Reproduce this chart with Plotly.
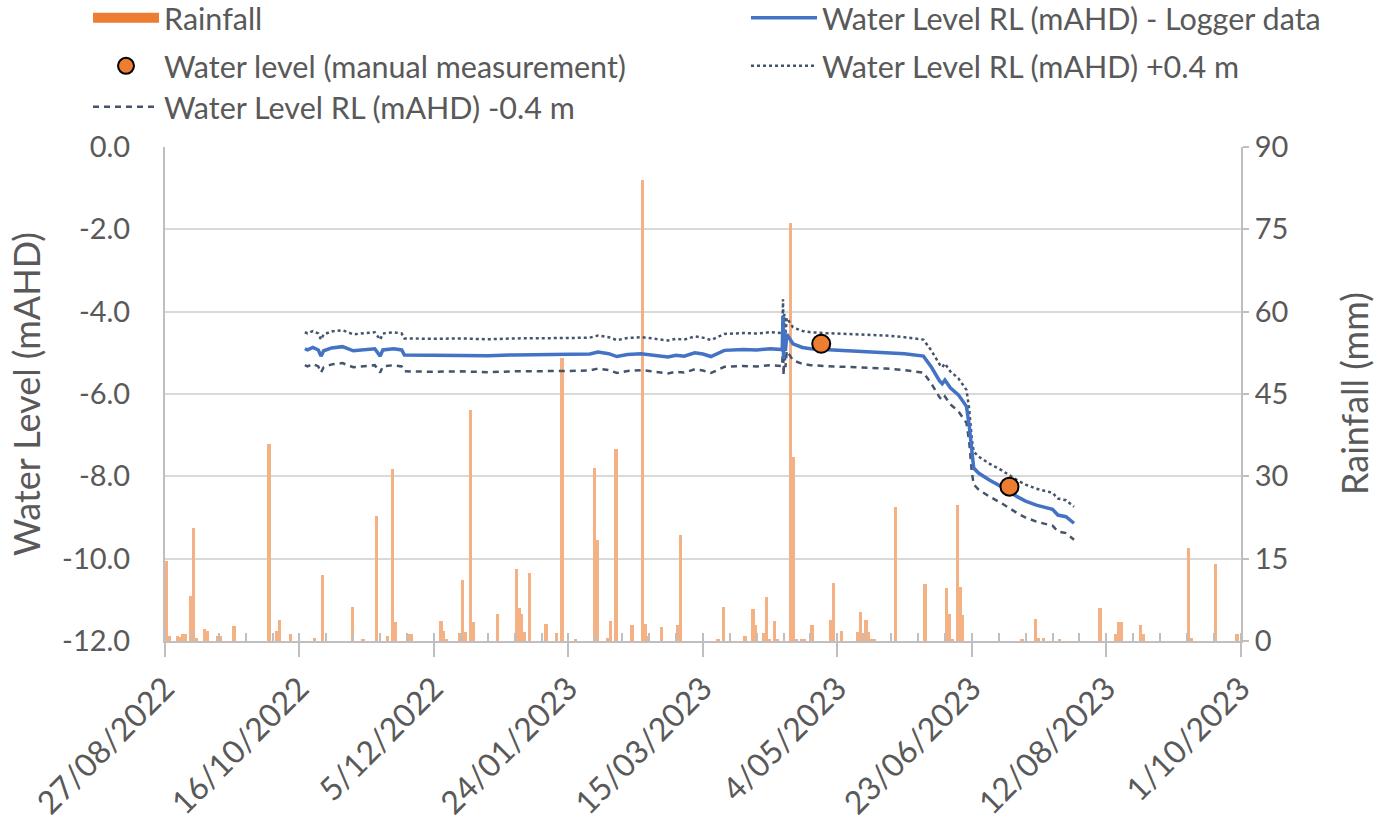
import pandas as pd
import plotly.graph_objects as go

START = pd.Timestamp("2022-08-27")
END = pd.Timestamp("2023-10-01")

# Daily rainfall (day offset from 27/08/2022, mm)
rain_day = [0, 1, 4, 5, 6, 7, 9, 10, 11, 14, 15, 19, 20, 25, 38, 41, 42, 46, 55, 58,
            69, 73, 78, 82, 84, 85, 90, 91,
            102, 103, 104, 109, 110, 111, 113, 114, 123, 130, 131, 132, 133, 135, 141,
            145, 147, 152, 159, 160, 164, 165, 167, 173, 177, 178, 179, 184, 190, 191,
            205, 207, 215, 218, 219, 222, 223, 224, 226, 227, 232, 233, 234, 236, 237,
            240, 247, 248, 251, 257, 258, 259, 260, 261, 262, 263, 271, 282, 290, 291,
            292, 294, 295, 296,
            318, 323, 324, 326, 332, 347, 353, 354, 355, 362, 363, 380, 381, 390, 398]
rain_mm = [14.5, 1.0, 1.0, 0.8, 1.2, 1.3, 8.2, 20.5, 0.5, 2.1, 1.8, 1.0, 1.0, 2.8, 35.9, 1.8, 3.8, 1.3, 0.5, 12.0,
           6.2, 0.3, 22.8, 1.0, 31.3, 3.4, 1.3, 1.3,
           3.6, 1.8, 0.4, 1.5, 11.1, 1.7, 42.0, 3.4, 4.9, 13.1, 6.0, 5.0, 1.7, 12.3, 3.1,
           1.5, 51.5, 0.3, 31.5, 18.4, 0.5, 3.6, 34.9, 2.9, 84.0, 3.1, 1.0, 2.6, 2.9, 19.4,
           0.4, 6.2, 1.0, 5.9, 2.9, 1.5, 8.0, 0.3, 3.7, 0.2, 76.2, 33.6, 0.3, 0.3, 0.3,
           2.9, 3.8, 10.6, 1.8, 1.6, 5.2, 1.5, 3.8, 1.6, 0.3, 0.3, 24.4, 10.4, 9.7, 5.0,
           0.3, 24.8, 9.9, 4.7,
           0.3, 4.1, 0.5, 0.5, 0.3, 6.0, 1.3, 3.5, 3.5, 2.9, 1.3, 16.9, 0.5, 14.0, 1.3]

# Logger water level (day offset from 27/08/2022, mAHD)
logger_day = [52, 53, 55, 57, 58, 59, 62, 66, 70, 74, 78, 80, 81, 85, 88, 89, 100, 110, 120,
              130, 140, 150, 158, 161, 165, 168, 172, 177, 180, 184, 187, 190, 193, 197, 200,
              203, 206, 208, 215, 220, 225, 229.5, 229.8, 230.0, 230.3, 230.7, 231.2, 232,
              233.5, 237, 240, 245, 252, 260, 268, 275, 282, 285, 288, 289, 290, 292, 295,
              298, 299, 300, 300.7, 302.5, 306.5, 311, 317, 320, 324, 330, 332, 335, 338]
logger_level = [-4.90, -4.93, -4.87, -4.93, -5.08, -4.95, -4.88, -4.85, -4.95, -4.92, -4.90,
                -5.08, -4.93, -4.90, -4.93, -5.05, -5.06, -5.05, -5.07, -5.05, -5.05, -5.04,
                -5.03, -4.98, -5.02, -5.09, -5.04, -5.02, -5.04, -5.08, -5.10, -5.06, -5.08,
                -5.00, -5.03, -5.09, -5.00, -4.94, -4.92, -4.93, -4.90, -4.92, -4.10, -5.15,
                -4.45, -4.95, -4.55, -4.62, -4.78, -4.87, -4.90, -4.92, -4.94, -4.96, -4.98,
                -5.02, -5.08, -5.35, -5.68, -5.75, -5.66, -5.85, -6.02, -6.30, -6.75, -7.50,
                -7.80, -7.92, -8.09, -8.25, -8.50, -8.60, -8.70, -8.80, -8.94, -8.98, -9.14]

manual_date = ["2023-04-28", "2023-07-07"]
manual_level = [-4.78, -8.25]

level_ticks = [0, -2, -4, -6, -8, -10, -12]
level_tick_text = ["0.0", "-2.0", "-4.0", "-6.0", "-8.0", "-10.0", "-12.0"]

BAND = 0.4  # +/- offset shown in the legend

rain_x = START + pd.to_timedelta(rain_day, unit="D")
logger_x = START + pd.to_timedelta(logger_day, unit="D")
level_plus = [v + BAND for v in logger_level]
level_minus = [v - BAND for v in logger_level]

FONT = "Lato"
TXT = "#595959"
AXC = "#BFBFBF"
DAY_MS = 86400000

fig = go.Figure()
fig.add_trace(go.Bar(x=rain_x, y=rain_mm, name="Rainfall", yaxis="y",
                     width=1.25 * DAY_MS, offset=0, showlegend=False,
                     marker=dict(color="#F4B183", line=dict(width=0))))
# legend-only swatch for the rainfall bars (wide rectangle like the original)
fig.add_trace(go.Scatter(x=[None], y=[None], mode="lines", yaxis="y", name="Rainfall",
                         line=dict(color="#ED7D31", width=13),
                         legend="legend", legendrank=1))
fig.add_trace(go.Scatter(x=logger_x, y=level_plus, mode="lines", yaxis="y2",
                         name="Water Level RL (mAHD) +0.4 m",
                         line=dict(color="#44546A", width=2.5, dash="dot"),
                         legend="legend4", legendrank=4))
fig.add_trace(go.Scatter(x=logger_x, y=level_minus, mode="lines", yaxis="y2",
                         name="Water Level RL (mAHD) -0.4 m",
                         line=dict(color="#44546A", width=2.5, dash="6px,5px"),
                         legend="legend5", legendrank=5))
fig.add_trace(go.Scatter(x=logger_x, y=logger_level, mode="lines", yaxis="y2",
                         name="Water Level RL (mAHD) - Logger data",
                         line=dict(color="#4472C4", width=3.5),
                         legend="legend2", legendrank=2))
fig.add_trace(go.Scatter(x=manual_date, y=manual_level, mode="markers", yaxis="y2",
                         name="Water level (manual measurement)",
                         marker=dict(color="#ED7D31", size=18, line=dict(color="#000000", width=2)),
                         legend="legend3", legendrank=3))

# Plot area in px: left 165, right 1241, top 147, bottom 641
PL, PR, PT, PB = 165, 1241, 147, 641
W, H = 1379, 825


def cx(px):
    return px / W


def cy(py):
    return 1 - py / H


def px_x(px):
    return (px - PL) / (PR - PL)


leg_common = dict(font=dict(family=FONT, size=30.5, color=TXT), bgcolor="rgba(0,0,0,0)",
                  xref="container", yref="container",
                  xanchor="left", yanchor="middle", itemwidth=66, borderwidth=0)

fig.update_layout(
    width=W, height=H, autosize=False,
    margin=dict(l=PL, r=W - PR, t=PT, b=H - PB, pad=0, autoexpand=False),
    plot_bgcolor="white", paper_bgcolor="white",
    font=dict(family=FONT, color=TXT),
    bargap=0,
    showlegend=True,
    legend=dict(x=cx(88), y=cy(18), **leg_common),
    legend2=dict(x=cx(746), y=cy(18), **leg_common),
    legend3=dict(x=cx(88), y=cy(66), **leg_common),
    legend4=dict(x=cx(746), y=cy(66), **leg_common),
    legend5=dict(x=cx(88), y=cy(107), **leg_common),
    xaxis=dict(
        type="date",
        range=[START, END + pd.Timedelta(hours=2)],
        tick0=START, dtick=50 * DAY_MS, tickformat="%-d/%m/%Y", tickangle=-45,
        ticks="outside", ticklen=14, tickwidth=2, tickcolor=AXC,
        showline=True, linecolor=AXC, linewidth=2, showgrid=False, zeroline=False,
        tickfont=dict(family=FONT, size=32, color=TXT),
        minor=dict(tick0=START, dtick=10 * DAY_MS, ticks="inside", ticklen=8,
                   tickwidth=2, tickcolor=AXC, showgrid=False),
    ),
    yaxis=dict(
        range=[0, 90], dtick=15, side="right", tickformat="d",
        showgrid=False, zeroline=False,
        showline=True, linecolor=AXC, linewidth=2,
        ticks="outside", ticklen=6, tickwidth=2, tickcolor=AXC,
        tickfont=dict(family=FONT, size=29, color=TXT),
    ),
    yaxis2=dict(
        overlaying="y", side="left", range=[-12, 0],
        tickmode="array", tickvals=level_ticks, ticktext=level_tick_text,
        showgrid=True, gridcolor="#D9D9D9", gridwidth=2, zeroline=False,
        showline=True, linecolor=AXC, linewidth=2,
        ticks="outside", ticklen=27, tickcolor="rgba(0,0,0,0)",
        tickfont=dict(family=FONT, size=29, color=TXT),
    ),
    annotations=[
        dict(text="Water Level (mAHD)", textangle=-90, showarrow=False,
             xref="paper", yref="paper", x=px_x(26), y=0.5, xanchor="center", yanchor="middle",
             font=dict(family=FONT, size=36, color=TXT)),
        dict(text="Rainfall (mm)", textangle=-90, showarrow=False,
             xref="paper", yref="paper", x=px_x(1354), y=0.5, xanchor="center", yanchor="middle",
             font=dict(family=FONT, size=36, color=TXT)),
    ],
)

fig.write_html("out.html", config={"displayModeBar": False},
               post_script="document.body.style.margin='0';")
